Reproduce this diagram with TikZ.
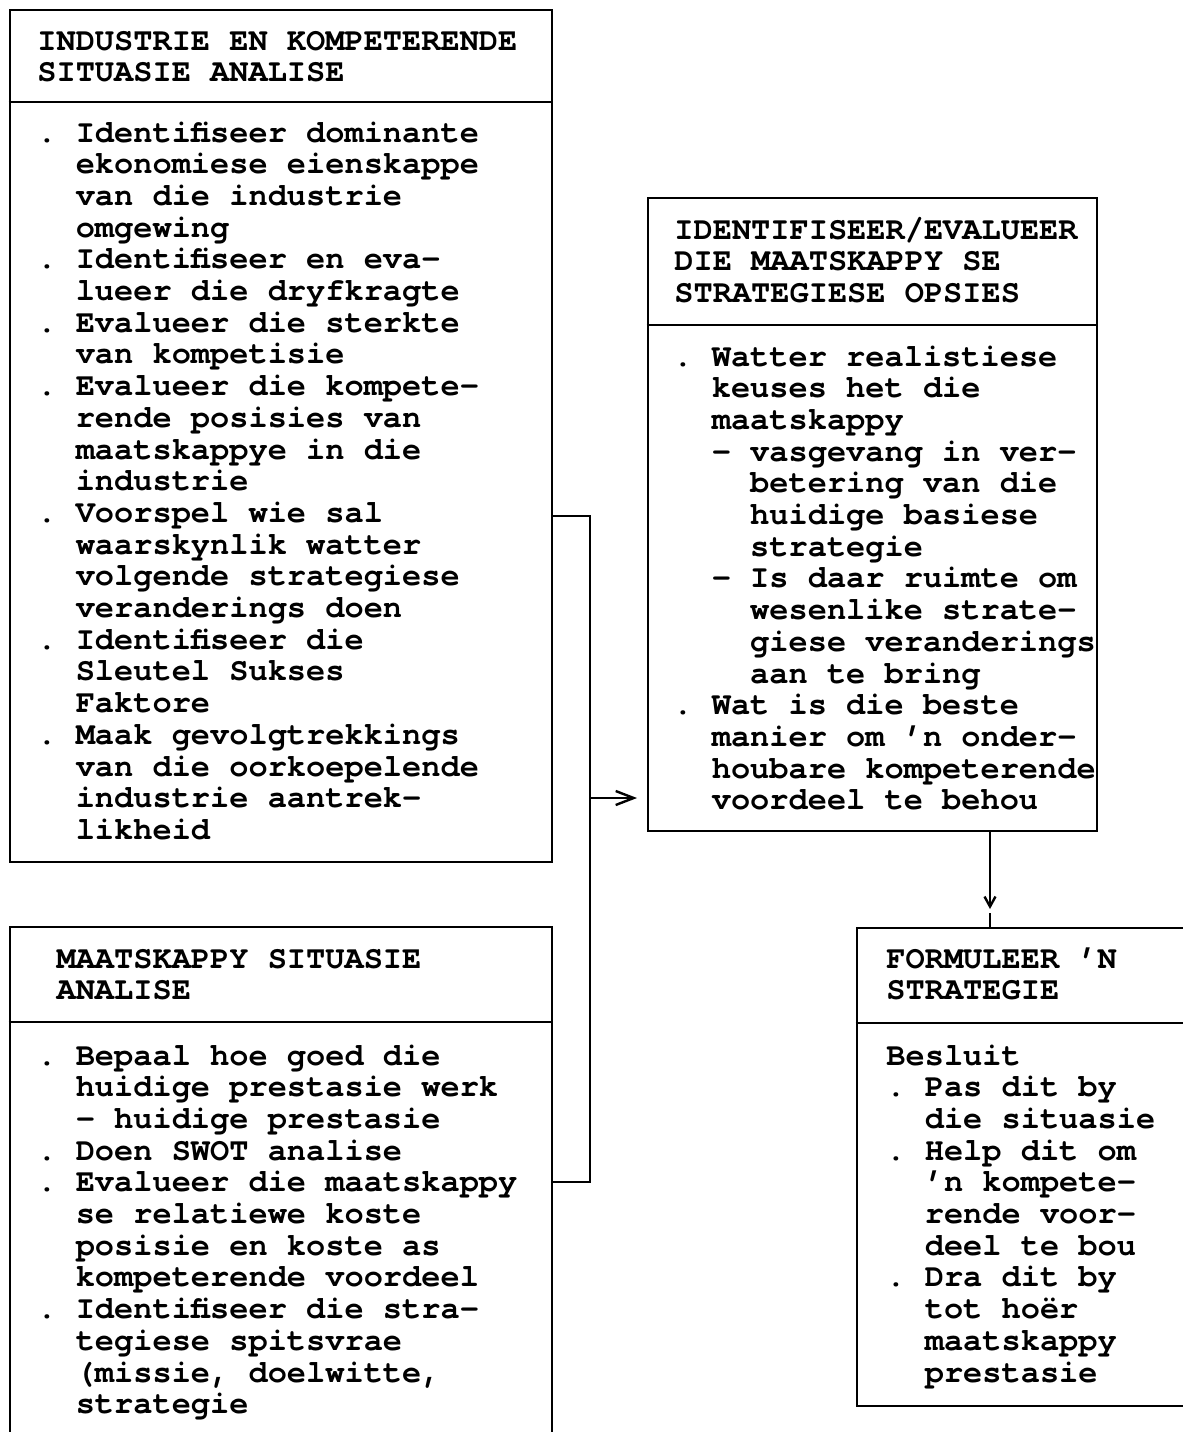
\documentclass[tikz,border=0pt]{standalone}
\usepackage{fontspec}
\newfontfamily\twfont{texgyrecursor-bold.otf}[WordSpace={1,0,0}]
\usetikzlibrary{arrows.meta,fit}
\newcommand\onec{\hspace*{0.6em}}
\newcommand\twoc{\hspace*{1.2em}}
\newcommand\fourc{\hspace*{2.4em}}
\newcommand\twsetup{\twfont\fontsize{16.0pt}{15.85pt}\selectfont\frenchspacing}
\newcommand\tws{\spaceskip=0.6em\relax\xspaceskip=0.6em\relax}
\tikzset{
  box/.style={draw, line width=1.3pt, inner sep=0pt},
  divl/.style={line width=1.3pt},
  txt/.style={anchor=base west, inner sep=0pt, text width=300pt, align=flush left,
    font=\twsetup},
  conn/.style={line width=1.2pt},
}
\begin{document}
\begin{tikzpicture}[x=0.5pt,y=-0.5pt]
\useasboundingbox (0,0) rectangle (1183,1432);
% box 1
\coordinate (p1a) at (10,10); \coordinate (p1b) at (552,862);
\node[box, fit=(p1a)(p1b)] (b1) {};
\draw[divl] (b1.west |- 0,102) -- (b1.east |- 0,102);
\node[txt] (h1) at (37,50) {\tws INDUSTRIE EN KOMPETERENDE\\SITUASIE ANALISE};
\node[txt] (t1) at (37,142) {\tws .~Identifiseer dominante\\
\twoc ekonomiese eienskappe\\
\twoc van die industrie\\
\twoc omgewing\\
.~Identifiseer en eva-\\
\twoc lueer die dryfkragte\\
.~Evalueer die sterkte\\
\twoc van kompetisie\\
.~Evalueer die kompete-\\
\twoc rende posisies van\\
\twoc maatskappye in die\\
\twoc industrie\\
.~Voorspel wie sal\\
\twoc waarskynlik watter\\
\twoc volgende strategiese\\
\twoc veranderings doen\\
.~Identifiseer die\\
\twoc Sleutel Sukses\\
\twoc Faktore\\
.~Maak gevolgtrekkings\\
\twoc van die oorkoepelende\\
\twoc industrie aantrek-\\
\twoc likheid};
% box 2
\coordinate (p2a) at (10,927); \coordinate (p2b) at (552,1446);
\node[box, fit=(p2a)(p2b)] (b2) {};
\draw[divl] (b2.west |- 0,1022) -- (b2.east |- 0,1022);
\node[txt] (h2) at (37,968) {\tws\onec MAATSKAPPY SITUASIE\\\onec ANALISE};
\node[txt] (t2) at (37,1065) {\tws .~Bepaal hoe goed die\\
\twoc huidige prestasie werk\\
\twoc -~huidige prestasie\\
.~Doen SWOT analise\\
.~Evalueer die maatskappy\\
\twoc se relatiewe koste\\
\twoc posisie en koste as\\
\twoc kompeterende voordeel\\
.~Identifiseer die stra-\\
\twoc tegiese spitsvrae\\
\twoc (missie, doelwitte,\\
\twoc strategie};
% box 3
\coordinate (p3a) at (648,198); \coordinate (p3b) at (1097,831);
\node[box, fit=(p3a)(p3b)] (b3) {};
\draw[divl] (b3.west |- 0,325) -- (b3.east |- 0,325);
\node[txt] (h3) at (674,239) {\tws IDENTIFISEER/EVALUEER\\DIE MAATSKAPPY SE\\STRATEGIESE OPSIES};
\node[txt] (t3) at (673,366) {\tws .~Watter realistiese\\
\twoc keuses het die\\
\twoc maatskappy\\
\twoc -~vasgevang in ver-\\
\fourc betering van die\\
\fourc huidige basiese\\
\fourc strategie\\
\twoc -~Is daar ruimte om\\
\fourc wesenlike strate-\\
\fourc giese veranderings\\
\fourc aan te bring\\
.~Wat is die beste\\
\twoc manier om ’n onder-\\
\twoc houbare kompeterende\\
\twoc voordeel te behou};
% box 4
\coordinate (p4a) at (857,928); \coordinate (p4b) at (1200,1406);
\node[box, fit=(p4a)(p4b)] (b4) {};
\draw[divl] (b4.west |- 0,1023) -- (b4.east |- 0,1023);
\node[txt] (h4) at (886,968) {\tws FORMULEER ’N\\STRATEGIE};
\node[txt] (t4) at (886,1065) {\tws Besluit\\
.~Pas dit by\\
\twoc die situasie\\
.~Help dit om\\
\twoc ’n kompete-\\
\twoc rende voor-\\
\twoc deel te bou\\
.~Dra dit by\\
\twoc tot hoër\\
\twoc maatskappy\\
\twoc prestasie};
% connectors
\coordinate (j1) at (590,516); \coordinate (j2) at (590,1182);
\coordinate (j3) at (590,798); \coordinate (a1) at (637,798);
\draw[conn] (b1.east |- j1) -- (j1) -- (j2) -- (b2.east |- j2);
\draw[conn, -{Straight Barb[length=9pt,width=7pt]}] (j3) -- (a1);
\coordinate (v1) at (990,909); \coordinate (v2) at (990,913);
\draw[conn, -{Straight Barb[length=5pt,width=5.5pt]}] (b3.south -| v1) -- (v1);
\draw[conn] (v2) -- (b4.north -| v2);
\end{tikzpicture}
\end{document}
